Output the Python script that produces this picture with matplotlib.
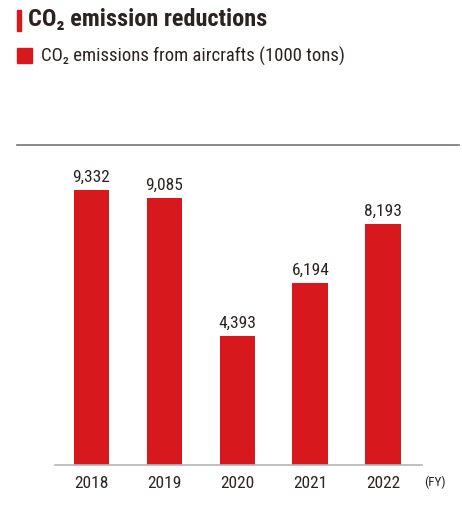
import numpy as np
import matplotlib
matplotlib.use('Agg')
import matplotlib.pyplot as plt
from matplotlib.patches import Rectangle
from matplotlib.lines import Line2D

years = ['2018', '2019', '2020', '2021', '2022']
emissions = [9332, 9085, 4393, 6194, 8193]

red = '#d7181c'
txt = '#2b2321'
fam = ['Roboto Condensed', 'DejaVu Sans']

W, H = 462, 516
fig = plt.figure(figsize=(W/100, H/100), dpi=100)

def fx(px):
    return px / W

def fy(py):
    return 1 - py / H

ax = fig.add_axes([fx(55), fy(465), fx(422) - fx(55), fy(144) - fy(465)])
x = np.arange(len(years))
ax.bar(x, emissions, width=0.49, color=red, zorder=2)
for xi, v in zip(x, emissions):
    ax.text(xi, v + 170, f'{v:,}', ha='center', va='bottom',
            fontsize=12.5, color=txt, family=fam)
ax.set_xlim(-0.5, 4.53)
ax.set_ylim(0, 10903)
for s in ['top', 'right', 'left']:
    ax.spines[s].set_visible(False)
ax.spines['bottom'].set_color('#b5b5b5')
ax.spines['bottom'].set_linewidth(1.2)
ax.set_yticks([])
ax.set_xticks(x)
ax.set_xticklabels(years, fontsize=12.5, color=txt, family=fam)
ax.tick_params(axis='x', length=0, pad=8)

fig.text(fx(424), fy(482), '(FY)', fontsize=9.5, color=txt, family=fam,
         va='center', ha='left')

# top separator line
fig.add_artist(Line2D([fx(17), fx(459)], [fy(144.5), fy(144.5)],
                      color='#7a7372', lw=1.2))

# title
fig.add_artist(Rectangle((fx(17), fy(31)), fx(4), fy(10) - fy(31),
                         color=red, transform=fig.transFigure))
fig.text(fx(28), fy(20), 'CO₂ emission reductions', fontsize=17.5,
         fontweight='bold', color=txt, family=fam, va='center')

# legend
fig.add_artist(Rectangle((fx(17), fy(63)), fx(15), fy(48) - fy(63),
                         color=red, transform=fig.transFigure))
fig.text(fx(41), fy(56), 'CO₂ emissions from aircrafts (1000 tons)',
         fontsize=13.5, color=txt, family=fam, va='center')

fig.savefig('out.png', dpi=100)
